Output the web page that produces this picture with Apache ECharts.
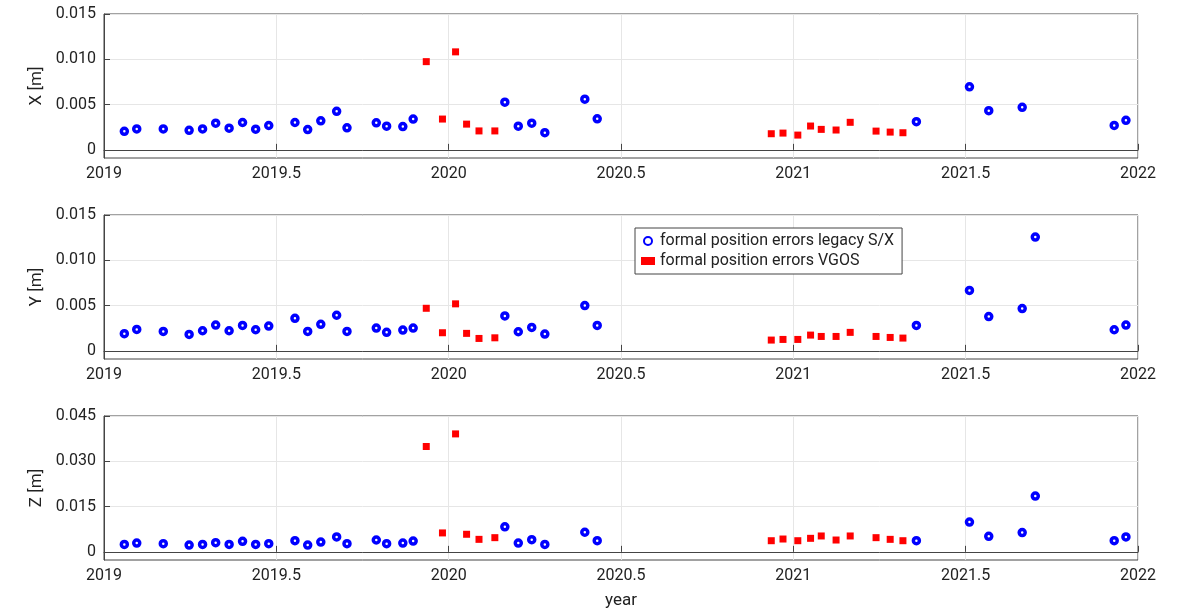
<!DOCTYPE html>
<html>
<head>
<meta charset="utf-8">
<script src="https://cdn.jsdelivr.net/npm/echarts@6/dist/echarts.min.js"></script>
<style>html,body{margin:0;padding:0;background:#fff}</style>
</head>
<body>
<div id="main" style="width:1178px;height:613px"></div>
<script>
// session epochs (decimal year) and formal errors [m]
const blueYears = [2019.059, 2019.095, 2019.172, 2019.247, 2019.286, 2019.324, 2019.363, 2019.402, 2019.440, 2019.478,
  2019.554, 2019.591, 2019.629, 2019.675, 2019.705, 2019.790, 2019.820, 2019.867, 2019.897,
  2020.163, 2020.202, 2020.241, 2020.279, 2020.395, 2020.431,
  2021.357, 2021.511, 2021.567, 2021.664, 2021.702, 2021.931, 2021.965];
const blueX = [0.00205, 0.00231, 0.00231, 0.00216, 0.00231, 0.00295, 0.00239, 0.00302, 0.00228, 0.00269,
  0.00302, 0.00224, 0.00321, 0.00425, 0.00243, 0.00299, 0.00261, 0.00257, 0.0034,
  0.00526, 0.00261, 0.00295, 0.0019, 0.0056, 0.00343,
  0.00311, 0.00696, 0.00433, 0.0047, null, 0.0027, 0.00326];
const blueY = [0.00189, 0.00237, 0.00215, 0.00181, 0.00222, 0.00285, 0.00222, 0.00281, 0.00233, 0.00274,
  0.00359, 0.00215, 0.00293, 0.00393, 0.00215, 0.00252, 0.00204, 0.0023, 0.00252,
  0.00385, 0.00211, 0.00259, 0.00185, 0.005, 0.00281,
  0.00281, 0.00667, 0.00378, 0.00467, 0.01256, 0.00233, 0.00285];
const blueZ = [0.00246, 0.00291, 0.00269, 0.00224, 0.00246, 0.00302, 0.00246, 0.00347, 0.00246, 0.00269,
  0.00369, 0.00224, 0.00325, 0.00493, 0.00269, 0.00392, 0.00269, 0.00291, 0.00358,
  0.00828, 0.00291, 0.00403, 0.00246, 0.00649, 0.00369,
  0.00369, 0.00985, 0.00515, 0.00638, 0.01847, 0.00369, 0.00493];

const redYears = [2019.935, 2019.982, 2020.020, 2020.052, 2020.088, 2020.134,
  2020.936, 2020.970, 2021.013, 2021.050, 2021.081, 2021.124, 2021.165, 2021.240, 2021.281, 2021.318];
const redX = [0.00974, 0.0034, 0.01082, 0.00284, 0.00209, 0.00209,
  0.00178, 0.00185, 0.00163, 0.00263, 0.00226, 0.00219, 0.00304, 0.00207, 0.00196, 0.00189];
const redY = [0.0047, 0.002, 0.00519, 0.00193, 0.00137, 0.00144,
  0.00119, 0.00126, 0.00126, 0.00174, 0.00159, 0.00159, 0.00204, 0.00159, 0.00148, 0.00141];
const redZ = [0.0349, 0.00627, 0.03907, 0.00582, 0.00414, 0.0047,
  0.00369, 0.00425, 0.00369, 0.00448, 0.00526, 0.00392, 0.00526, 0.0047, 0.00414, 0.00369];

const panels = [
  { name: 'X [m]', blue: blueX, red: redX, min: -0.0009, max: 0.015, ticks: [0, 0.005, 0.01, 0.015], labels: ['0', '0.005', '0.010', '0.015'] },
  { name: 'Y [m]', blue: blueY, red: redY, min: -0.0009, max: 0.015, ticks: [0, 0.005, 0.01, 0.015], labels: ['0', '0.005', '0.010', '0.015'] },
  { name: 'Z [m]', blue: blueZ, red: redZ, min: -0.0027, max: 0.045, ticks: [0, 0.015, 0.03, 0.045], labels: ['0', '0.015', '0.030', '0.045'] }
];
const tops = [14, 215, 416];
const font = 'Roboto';

const pairs = (xs, ys) => xs.map((x, i) => [x, ys[i]]).filter(p => p[1] != null);

const grid = [], xAxis = [], yAxis = [], series = [];
panels.forEach((p, i) => {
  grid.push({ left: 104, right: 40, top: tops[i], height: 144, show: true, borderColor: '#444', borderWidth: 1 });
  xAxis.push({
    type: 'value', gridIndex: i, min: 2019, max: 2022, interval: 0.5,
    name: i === 2 ? 'year' : '', nameLocation: 'middle', nameGap: 32,
    nameTextStyle: { fontFamily: font, fontSize: 17, color: '#222' },
    axisLine: { lineStyle: { color: '#444' } },
    axisTick: { inside: true, length: 6, lineStyle: { color: '#444' } },
    axisLabel: { fontFamily: font, fontSize: 16, color: '#222', margin: 8, formatter: v => String(v) },
    splitLine: { show: true, lineStyle: { color: '#e6e6e6' } }
  });
  yAxis.push({
    type: 'value', gridIndex: i, min: p.min, max: p.max,
    name: p.name, nameLocation: 'middle', nameGap: 58,
    nameTextStyle: { fontFamily: font, fontSize: 17, color: '#222' },
    axisLine: { show: true, lineStyle: { color: '#444' } },
    axisTick: { show: true, inside: true, length: 6, customValues: p.ticks, lineStyle: { color: '#444' } },
    axisLabel: {
      fontFamily: font, fontSize: 16, color: '#222', customValues: p.ticks,
      formatter: v => p.labels[p.ticks.findIndex(t => Math.abs(t - v) < 1e-9)]
    },
    splitLine: { show: true, lineStyle: { color: '#e6e6e6' } }
  });
  series.push({
    name: 'formal position errors legacy S/X', type: 'scatter', xAxisIndex: i, yAxisIndex: i,
    data: pairs(blueYears, p.blue), symbol: 'circle', symbolSize: 6,
    itemStyle: { color: '#fff', borderColor: '#0000ff', borderWidth: 3.5, opacity: 1 }
  });
  series.push({
    name: 'formal position errors VGOS', type: 'scatter', xAxisIndex: i, yAxisIndex: i,
    data: pairs(redYears, p.red), symbol: 'rect', symbolSize: 7,
    itemStyle: { color: '#ff0000', opacity: 1 }
  });
});

const chart = echarts.init(document.getElementById('main'));
chart.setOption({
  animation: false,
  grid, xAxis, yAxis, series,
  legend: {
    left: 635, top: 228, orient: 'vertical',
    data: ['formal position errors legacy S/X', 'formal position errors VGOS'],
    backgroundColor: '#fff', borderColor: '#444', borderWidth: 1,
    padding: [5, 8, 5, 6], itemGap: 4, itemWidth: 14, itemHeight: 8,
    textStyle: { fontFamily: font, fontSize: 16, color: '#222' }
  }
});
</script>
</body>
</html>
